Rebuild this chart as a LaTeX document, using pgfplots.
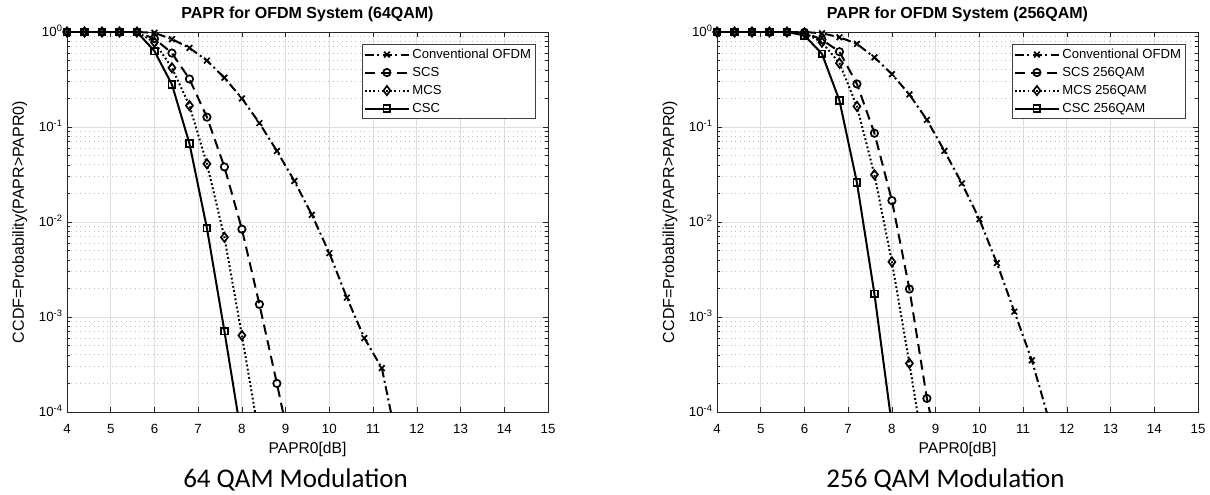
\documentclass[border=0pt]{standalone}
\usepackage{fontspec}
\setmainfont{Liberation Sans}
\newfontfamily\calibri{Carlito}
\usepackage{pgfplots}
\pgfplotsset{compat=1.18}

\pgfplotsset{
 legend image code/.code={\draw[#1, mark indices={2}] plot coordinates {(0pt,0pt)(22pt,0pt)(44pt,0pt)};},
 conv/.style={black, line width=2pt, dash pattern=on 9pt off 3.5pt on 2pt off 3.5pt, mark=x, mark size=4pt, mark options={solid, line width=1.7pt}},
 scs/.style={black, line width=2pt, dash pattern=on 10pt off 6pt, mark=o, mark size=3.7pt, mark options={solid, line width=1.7pt}},
 mcs/.style={black, line width=2pt, dash pattern=on 1.8pt off 2.4pt, mark=diamond, mark size=4.6pt, mark options={solid, line width=1.7pt}},
 csc/.style={black, line width=2pt, solid, mark=square, mark size=3.3pt, mark options={solid, line width=1.7pt}},
}

\begin{document}
\begin{tikzpicture}
\path[use as bounding box] (0,0) rectangle (1210pt,495pt);

\begin{axis}[at={(67pt,83pt)}, anchor=south west, title={PAPR for OFDM System (64QAM)},
  scale only axis, width=481pt, height=380pt,
  xmin=4, xmax=15, ymode=log, ymin=1e-4, ymax=1,
  xtick={4,5,...,15},
  ytick={1e-4,1e-3,1e-2,1e-1,1},
  yticklabels={10\textsuperscript{-4},10\textsuperscript{-3},10\textsuperscript{-2},10\textsuperscript{-1},10\textsuperscript{0}},
  minor ytick={2e-4,3e-4,4e-4,5e-4,6e-4,7e-4,8e-4,9e-4,
               2e-3,3e-3,4e-3,5e-3,6e-3,7e-3,8e-3,9e-3,
               2e-2,3e-2,4e-2,5e-2,6e-2,7e-2,8e-2,9e-2,
               2e-1,3e-1,4e-1,5e-1,6e-1,7e-1,8e-1,9e-1},
  xmajorgrids=true, ymajorgrids=true, yminorgrids=true,
  major grid style={black!13, line width=0.9pt},
  minor grid style={black!25, line width=0.7pt, dash pattern=on 1pt off 3.5pt},
  tick align=inside,
  major tick length=5pt, minor tick length=3pt,
  tick style={black!85, line width=0.6pt},
  axis line style={black!85, line width=0.8pt},
  ticklabel style={font=\fontsize{13.3}{14}\selectfont, /pgf/number format/assume math mode=true},
  xticklabel style={anchor=base, yshift=-21pt},
  yticklabel style={anchor=base east, yshift=-4.7pt, xshift=-1pt},
  title style={at={(axis description cs:0.5,1.021)}, anchor=base, font=\bfseries\fontsize{16}{16}\selectfont},
  xlabel style={at={(axis description cs:0.5,-0.1079)}, anchor=base, font=\fontsize{15.6}{16}\selectfont},
  ylabel style={at={(axis description cs:-0.0894,0.5)}, anchor=base, font=\fontsize{16}{16}\selectfont},
  xlabel={PAPR0[dB]},
  ylabel={CCDF=Probability(PAPR>PAPR0)},
  clip mode=individual,
  legend style={at={(axis description cs:0.975,0.968)}, anchor=north east,
    draw=black!75, line width=0.8pt, fill=white,
    font=\fontsize{13.1}{14}\selectfont,
    inner xsep=2pt, inner ysep=1pt, row sep=0pt,
    nodes={inner ysep=2.5pt, inner xsep=2.5pt, text height=10pt, text depth=3pt}},
  legend cell align=left]
\addplot[conv, mark indices={1,...,19}] coordinates {
(4.0,1)(4.4,1)(4.8,1)(5.2,1)(5.6,1)(6.0,0.98)(6.4,0.84)(6.8,0.68)(7.2,0.50)(7.6,0.33)
(8.0,0.20)(8.4,0.11)(8.8,0.056)(9.2,0.027)(9.6,0.0119)(10.0,0.0047)(10.4,0.0016)(10.8,0.0006)(11.2,0.00029)(11.6,0.000037)};
\addlegendentry{Conventional OFDM}
\addplot[scs, mark indices={1,...,14}] coordinates {
(4.0,1)(4.4,1)(4.8,1)(5.2,1)(5.6,1)(6.0,0.85)(6.4,0.60)(6.8,0.32)(7.2,0.127)(7.6,0.038)
(8.0,0.0084)(8.4,0.00136)(8.8,0.0002)(9.2,0.000027)};
\addlegendentry{SCS}
\addplot[mcs, mark indices={1,...,12}] coordinates {
(4.0,1)(4.4,1)(4.8,1)(5.2,1)(5.6,1)(6.0,0.78)(6.4,0.42)(6.8,0.168)(7.2,0.041)(7.6,0.0069)
(8.0,0.00064)(8.4,0.000054)};
\addlegendentry{MCS}
\addplot[csc, mark indices={1,...,11}] coordinates {
(4.0,1)(4.4,1)(4.8,1)(5.2,1)(5.6,1)(6.0,0.63)(6.4,0.28)(6.8,0.067)(7.2,0.0086)(7.6,0.00071)
(8.0,0.000052)};
\addlegendentry{CSC}
\end{axis}

\begin{axis}[at={(717pt,83pt)}, anchor=south west, title={PAPR for OFDM System (256QAM)},
  scale only axis, width=481pt, height=380pt,
  xmin=4, xmax=15, ymode=log, ymin=1e-4, ymax=1,
  xtick={4,5,...,15},
  ytick={1e-4,1e-3,1e-2,1e-1,1},
  yticklabels={10\textsuperscript{-4},10\textsuperscript{-3},10\textsuperscript{-2},10\textsuperscript{-1},10\textsuperscript{0}},
  minor ytick={2e-4,3e-4,4e-4,5e-4,6e-4,7e-4,8e-4,9e-4,
               2e-3,3e-3,4e-3,5e-3,6e-3,7e-3,8e-3,9e-3,
               2e-2,3e-2,4e-2,5e-2,6e-2,7e-2,8e-2,9e-2,
               2e-1,3e-1,4e-1,5e-1,6e-1,7e-1,8e-1,9e-1},
  xmajorgrids=true, ymajorgrids=true, yminorgrids=true,
  major grid style={black!13, line width=0.9pt},
  minor grid style={black!25, line width=0.7pt, dash pattern=on 1pt off 3.5pt},
  tick align=inside,
  major tick length=5pt, minor tick length=3pt,
  tick style={black!85, line width=0.6pt},
  axis line style={black!85, line width=0.8pt},
  ticklabel style={font=\fontsize{13.3}{14}\selectfont, /pgf/number format/assume math mode=true},
  xticklabel style={anchor=base, yshift=-21pt},
  yticklabel style={anchor=base east, yshift=-4.7pt, xshift=-1pt},
  title style={at={(axis description cs:0.5,1.021)}, anchor=base, font=\bfseries\fontsize{16}{16}\selectfont},
  xlabel style={at={(axis description cs:0.5,-0.1079)}, anchor=base, font=\fontsize{15.6}{16}\selectfont},
  ylabel style={at={(axis description cs:-0.0894,0.5)}, anchor=base, font=\fontsize{16}{16}\selectfont},
  xlabel={PAPR0[dB]},
  ylabel={CCDF=Probability(PAPR>PAPR0)},
  clip mode=individual,
  legend style={at={(axis description cs:0.975,0.968)}, anchor=north east,
    draw=black!75, line width=0.8pt, fill=white,
    font=\fontsize{13.1}{14}\selectfont,
    inner xsep=2pt, inner ysep=1pt, row sep=0pt,
    nodes={inner ysep=2.5pt, inner xsep=2.5pt, text height=10pt, text depth=3pt}},
  legend cell align=left]
\addplot[conv, mark indices={1,...,19}] coordinates {
(4.0,1)(4.4,1)(4.8,1)(5.2,1)(5.6,1)(6.0,1)(6.4,0.97)(6.8,0.88)(7.2,0.75)(7.6,0.54)
(8.0,0.36)(8.4,0.22)(8.8,0.119)(9.2,0.056)(9.6,0.0255)(10.0,0.0107)(10.4,0.0037)(10.8,0.00114)(11.2,0.00035)(11.6,0.00008)};
\addlegendentry{Conventional OFDM}
\addplot[scs, mark indices={1,...,14}] coordinates {
(4.0,1)(4.4,1)(4.8,1)(5.2,1)(5.6,1)(6.0,0.99)(6.4,0.83)(6.8,0.62)(7.2,0.284)(7.6,0.086)
(8.0,0.0168)(8.4,0.00197)(8.8,0.000139)(9.2,0.00002)};
\addlegendentry{SCS 256QAM}
\addplot[mcs, mark indices={1,...,14}] coordinates {
(4.0,1)(4.4,1)(4.8,1)(5.2,1)(5.6,1)(6.0,0.98)(6.4,0.78)(6.8,0.47)(7.2,0.165)(7.6,0.0315)
(8.0,0.0038)(8.4,0.000325)(8.8,0.000024)};
\addlegendentry{MCS 256QAM}
\addplot[csc, mark indices={1,...,11}] coordinates {
(4.0,1)(4.4,1)(4.8,1)(5.2,1)(5.6,1)(6.0,0.92)(6.4,0.59)(6.8,0.19)(7.2,0.026)(7.6,0.00175)
(8.0,0.000072)};
\addlegendentry{CSC 256QAM}
\end{axis}

\node[anchor=base, font=\calibri\fontsize{27}{27}\selectfont] at (295.5pt,7pt) {64 QAM Modulation};
\node[anchor=base, font=\calibri\fontsize{27}{27}\selectfont] at (945.5pt,7pt) {256 QAM Modulation};
\end{tikzpicture}
\end{document}
